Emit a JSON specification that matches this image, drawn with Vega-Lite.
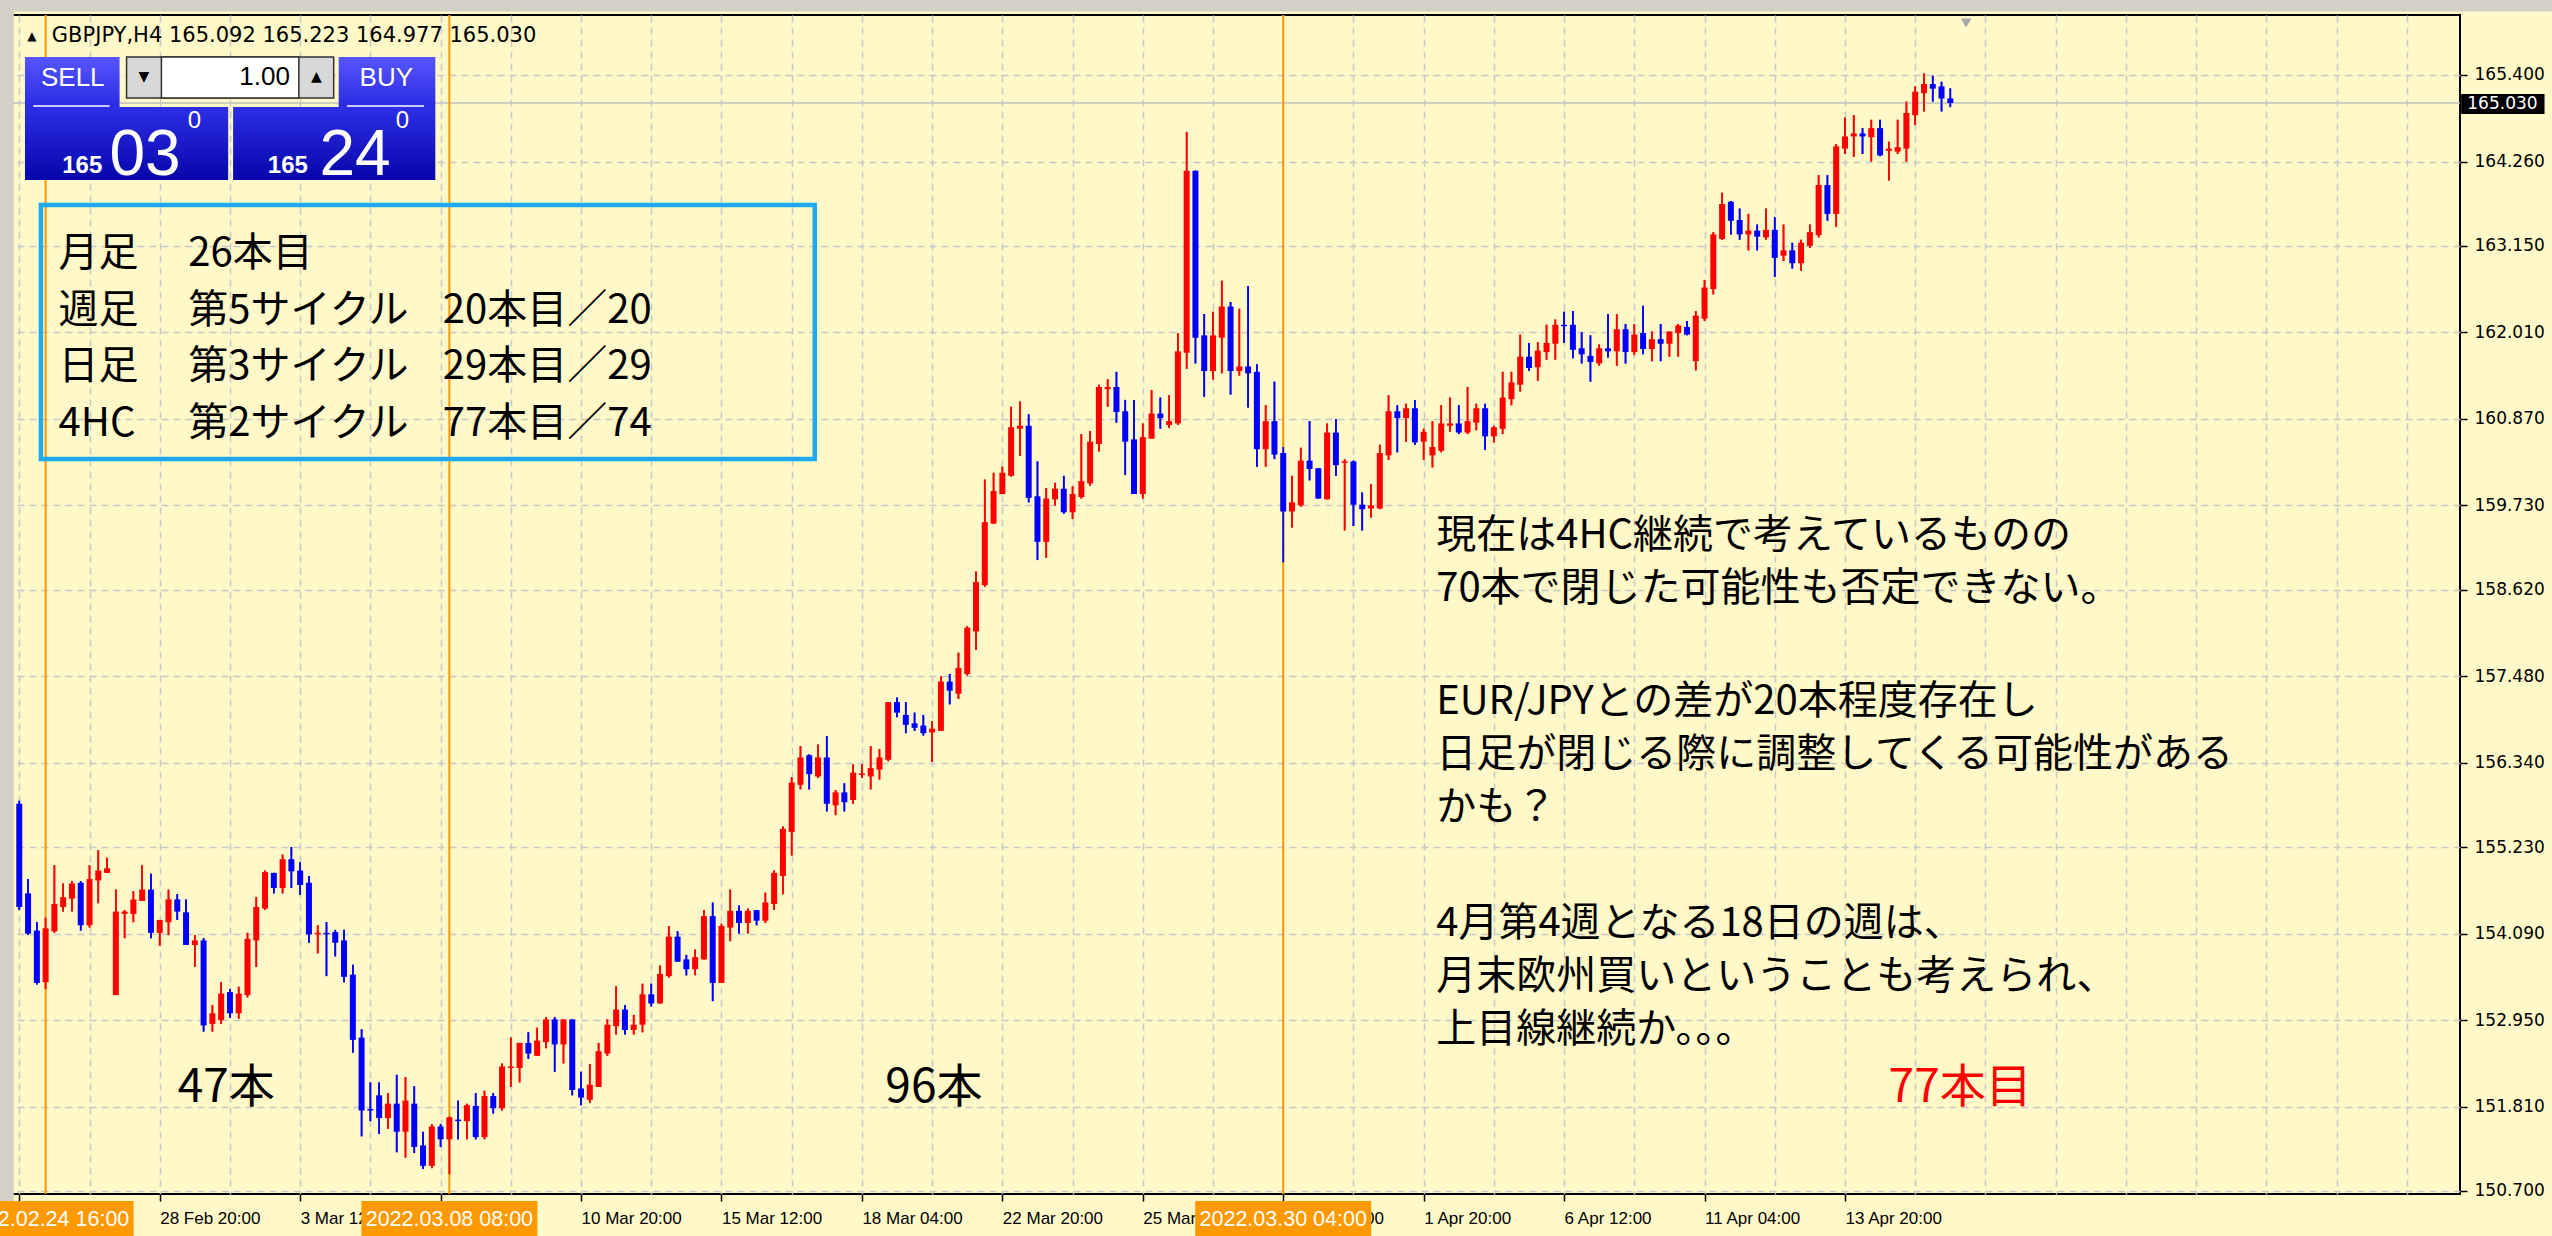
{
"$schema":"https://vega.github.io/schema/vega-lite/v6.json",
"width":2448,"height":1179,
"autosize":{"type":"none"},
"padding":{"left":12,"top":15,"right":92,"bottom":42},
"background":"#fff8c8",
"config":{"view":{"stroke":"#000000","strokeWidth":2}},
"datasets":{
"one":[{}],
"cycles":[{"i":0,"label":"2022.02.24 16:00"},{"i":46,"label":"2022.03.08 08:00"},{"i":141,"label":"2022.03.30 04:00"}],
"candles":[
{"i":-3,"o":155.80,"h":155.84,"l":154.40,"c":154.44},
{"i":-2,"o":154.62,"h":154.81,"l":154.07,"c":154.09},
{"i":-1,"o":154.13,"h":154.24,"l":153.42,"c":153.44},
{"i":0,"o":153.45,"h":154.30,"l":153.36,"c":154.16},
{"i":1,"o":154.12,"h":154.99,"l":154.10,"c":154.48},
{"i":2,"o":154.44,"h":154.75,"l":154.38,"c":154.57},
{"i":3,"o":154.55,"h":154.78,"l":154.38,"c":154.75},
{"i":4,"o":154.76,"h":154.78,"l":154.13,"c":154.20},
{"i":5,"o":154.20,"h":154.99,"l":154.17,"c":154.81},
{"i":6,"o":154.79,"h":155.19,"l":154.49,"c":154.92},
{"i":7,"o":154.89,"h":155.09,"l":154.89,"c":154.95},
{"i":8,"o":153.28,"h":154.67,"l":153.28,"c":154.38},
{"i":9,"o":154.35,"h":154.40,"l":154.03,"c":154.38},
{"i":10,"o":154.35,"h":154.65,"l":154.24,"c":154.54},
{"i":11,"o":154.52,"h":154.99,"l":154.52,"c":154.67},
{"i":12,"o":154.67,"h":154.88,"l":154.03,"c":154.10},
{"i":13,"o":154.10,"h":154.27,"l":153.93,"c":154.27},
{"i":14,"o":154.24,"h":154.67,"l":154.07,"c":154.54},
{"i":15,"o":154.54,"h":154.61,"l":154.27,"c":154.38},
{"i":16,"o":154.37,"h":154.54,"l":153.94,"c":153.94},
{"i":17,"o":153.94,"h":154.07,"l":153.65,"c":154.00},
{"i":18,"o":154.00,"h":154.03,"l":152.80,"c":152.88},
{"i":19,"o":152.90,"h":153.15,"l":152.80,"c":153.04},
{"i":20,"o":152.95,"h":153.45,"l":152.90,"c":153.30},
{"i":21,"o":153.32,"h":153.36,"l":152.98,"c":153.04},
{"i":22,"o":153.04,"h":153.39,"l":152.97,"c":153.30},
{"i":23,"o":153.28,"h":154.10,"l":153.25,"c":154.02},
{"i":24,"o":154.00,"h":154.57,"l":153.65,"c":154.44},
{"i":25,"o":154.42,"h":154.92,"l":154.40,"c":154.90},
{"i":26,"o":154.89,"h":154.89,"l":154.62,"c":154.69},
{"i":27,"o":154.69,"h":155.13,"l":154.62,"c":155.07},
{"i":28,"o":155.07,"h":155.23,"l":154.69,"c":154.91},
{"i":29,"o":154.92,"h":155.03,"l":154.60,"c":154.73},
{"i":30,"o":154.76,"h":154.85,"l":153.97,"c":154.08},
{"i":31,"o":154.08,"h":154.20,"l":153.83,"c":154.10},
{"i":32,"o":154.10,"h":154.24,"l":153.53,"c":154.08},
{"i":33,"o":154.11,"h":154.14,"l":153.79,"c":153.97},
{"i":34,"o":154.00,"h":154.14,"l":153.45,"c":153.52},
{"i":35,"o":153.55,"h":153.68,"l":152.52,"c":152.69},
{"i":36,"o":152.72,"h":152.83,"l":151.42,"c":151.76},
{"i":37,"o":151.78,"h":152.13,"l":151.62,"c":151.76},
{"i":38,"o":151.96,"h":152.13,"l":151.45,"c":151.66},
{"i":39,"o":151.66,"h":151.99,"l":151.52,"c":151.85},
{"i":40,"o":151.85,"h":152.23,"l":151.21,"c":151.48},
{"i":41,"o":151.48,"h":152.20,"l":151.14,"c":151.89},
{"i":42,"o":151.85,"h":152.08,"l":151.20,"c":151.28},
{"i":43,"o":151.30,"h":151.48,"l":150.99,"c":151.03},
{"i":44,"o":151.03,"h":151.58,"l":151.00,"c":151.55},
{"i":45,"o":151.55,"h":151.58,"l":151.28,"c":151.38},
{"i":46,"o":151.38,"h":151.68,"l":150.92,"c":151.67},
{"i":47,"o":151.64,"h":151.89,"l":151.38,"c":151.62},
{"i":48,"o":151.62,"h":151.85,"l":151.38,"c":151.83},
{"i":49,"o":151.82,"h":151.99,"l":151.38,"c":151.41},
{"i":50,"o":151.41,"h":152.02,"l":151.38,"c":151.95},
{"i":51,"o":151.95,"h":151.99,"l":151.72,"c":151.79},
{"i":52,"o":151.79,"h":152.38,"l":151.76,"c":152.34},
{"i":53,"o":152.32,"h":152.72,"l":152.07,"c":152.34},
{"i":54,"o":152.32,"h":152.65,"l":152.13,"c":152.65},
{"i":55,"o":152.65,"h":152.79,"l":152.44,"c":152.51},
{"i":56,"o":152.48,"h":152.85,"l":152.48,"c":152.68},
{"i":57,"o":152.66,"h":152.99,"l":152.58,"c":152.96},
{"i":58,"o":152.96,"h":152.99,"l":152.27,"c":152.63},
{"i":59,"o":152.63,"h":152.96,"l":152.38,"c":152.96},
{"i":60,"o":152.96,"h":152.96,"l":151.96,"c":152.03},
{"i":61,"o":152.05,"h":152.27,"l":151.83,"c":151.93},
{"i":62,"o":151.90,"h":152.37,"l":151.86,"c":152.10},
{"i":63,"o":152.07,"h":152.65,"l":152.07,"c":152.54},
{"i":64,"o":152.51,"h":152.96,"l":152.48,"c":152.89},
{"i":65,"o":152.87,"h":153.40,"l":152.76,"c":153.09},
{"i":66,"o":153.09,"h":153.15,"l":152.76,"c":152.82},
{"i":67,"o":152.82,"h":153.02,"l":152.76,"c":152.89},
{"i":68,"o":152.89,"h":153.43,"l":152.79,"c":153.29},
{"i":69,"o":153.29,"h":153.43,"l":153.13,"c":153.17},
{"i":70,"o":153.17,"h":153.67,"l":153.17,"c":153.56},
{"i":71,"o":153.53,"h":154.19,"l":153.51,"c":154.05},
{"i":72,"o":154.05,"h":154.12,"l":153.72,"c":153.72},
{"i":73,"o":153.75,"h":153.81,"l":153.54,"c":153.62},
{"i":74,"o":153.62,"h":153.88,"l":153.54,"c":153.78},
{"i":75,"o":153.75,"h":154.40,"l":153.75,"c":154.32},
{"i":76,"o":154.32,"h":154.50,"l":153.20,"c":153.44},
{"i":77,"o":153.44,"h":154.22,"l":153.44,"c":154.19},
{"i":78,"o":154.17,"h":154.67,"l":153.99,"c":154.39},
{"i":79,"o":154.39,"h":154.46,"l":154.09,"c":154.23},
{"i":80,"o":154.23,"h":154.42,"l":154.09,"c":154.39},
{"i":81,"o":154.40,"h":154.40,"l":154.20,"c":154.26},
{"i":82,"o":154.26,"h":154.63,"l":154.23,"c":154.50},
{"i":83,"o":154.48,"h":154.92,"l":154.40,"c":154.89},
{"i":84,"o":154.85,"h":155.50,"l":154.61,"c":155.47},
{"i":85,"o":155.43,"h":156.15,"l":155.12,"c":156.08},
{"i":86,"o":156.05,"h":156.56,"l":155.99,"c":156.41},
{"i":87,"o":156.44,"h":156.45,"l":155.99,"c":156.19},
{"i":88,"o":156.16,"h":156.58,"l":156.14,"c":156.41},
{"i":89,"o":156.41,"h":156.69,"l":155.70,"c":155.80},
{"i":90,"o":155.78,"h":155.98,"l":155.65,"c":155.95},
{"i":91,"o":155.95,"h":156.07,"l":155.70,"c":155.82},
{"i":92,"o":155.85,"h":156.32,"l":155.80,"c":156.21},
{"i":93,"o":156.18,"h":156.32,"l":156.14,"c":156.20},
{"i":94,"o":156.16,"h":156.56,"l":155.99,"c":156.27},
{"i":95,"o":156.25,"h":156.52,"l":156.12,"c":156.41},
{"i":96,"o":156.38,"h":157.14,"l":156.36,"c":157.14},
{"i":97,"o":157.14,"h":157.20,"l":156.94,"c":157.00},
{"i":98,"o":156.97,"h":157.14,"l":156.73,"c":156.84},
{"i":99,"o":156.86,"h":157.00,"l":156.76,"c":156.80},
{"i":100,"o":156.83,"h":156.97,"l":156.70,"c":156.73},
{"i":101,"o":156.74,"h":156.89,"l":156.35,"c":156.79},
{"i":102,"o":156.76,"h":157.48,"l":156.76,"c":157.41},
{"i":103,"o":157.41,"h":157.51,"l":157.11,"c":157.29},
{"i":104,"o":157.25,"h":157.79,"l":157.18,"c":157.59},
{"i":105,"o":157.51,"h":158.14,"l":157.49,"c":158.12},
{"i":106,"o":158.07,"h":158.86,"l":157.83,"c":158.72},
{"i":107,"o":158.68,"h":160.07,"l":158.66,"c":159.51},
{"i":108,"o":159.49,"h":160.16,"l":159.49,"c":159.92},
{"i":109,"o":159.88,"h":160.24,"l":159.88,"c":160.16},
{"i":110,"o":160.12,"h":161.03,"l":160.11,"c":160.76},
{"i":111,"o":160.74,"h":161.10,"l":160.38,"c":160.78},
{"i":112,"o":160.78,"h":160.93,"l":159.77,"c":159.83},
{"i":113,"o":159.85,"h":160.31,"l":159.01,"c":159.25},
{"i":114,"o":159.25,"h":159.96,"l":159.04,"c":159.82},
{"i":115,"o":159.81,"h":160.03,"l":159.73,"c":159.95},
{"i":116,"o":159.95,"h":160.12,"l":159.62,"c":159.64},
{"i":117,"o":159.64,"h":159.98,"l":159.55,"c":159.88},
{"i":118,"o":159.84,"h":160.67,"l":159.82,"c":160.05},
{"i":119,"o":160.02,"h":160.71,"l":159.99,"c":160.57},
{"i":120,"o":160.54,"h":161.32,"l":160.44,"c":161.29},
{"i":121,"o":161.26,"h":161.39,"l":161.03,"c":161.29},
{"i":122,"o":161.29,"h":161.49,"l":160.82,"c":160.96},
{"i":123,"o":160.97,"h":161.12,"l":160.13,"c":160.57},
{"i":124,"o":160.60,"h":161.12,"l":159.88,"c":159.88},
{"i":125,"o":159.88,"h":160.81,"l":159.82,"c":160.63},
{"i":126,"o":160.61,"h":161.25,"l":160.61,"c":160.94},
{"i":127,"o":160.94,"h":161.15,"l":160.74,"c":160.88},
{"i":128,"o":160.79,"h":161.18,"l":160.75,"c":160.84},
{"i":129,"o":160.81,"h":162.00,"l":160.79,"c":161.76},
{"i":130,"o":161.74,"h":164.65,"l":161.53,"c":164.14},
{"i":131,"o":164.14,"h":164.14,"l":161.60,"c":161.94},
{"i":132,"o":161.97,"h":162.25,"l":161.16,"c":161.50},
{"i":133,"o":161.50,"h":162.28,"l":161.39,"c":161.97},
{"i":134,"o":161.94,"h":162.69,"l":161.47,"c":162.35},
{"i":135,"o":162.35,"h":162.41,"l":161.19,"c":161.50},
{"i":136,"o":161.50,"h":162.32,"l":161.44,"c":161.56},
{"i":137,"o":161.56,"h":162.62,"l":161.02,"c":161.47},
{"i":138,"o":161.49,"h":161.59,"l":160.24,"c":160.47},
{"i":139,"o":160.47,"h":161.05,"l":160.24,"c":160.84},
{"i":140,"o":160.84,"h":161.36,"l":160.34,"c":160.40},
{"i":141,"o":160.42,"h":160.50,"l":158.98,"c":159.65},
{"i":142,"o":159.65,"h":160.12,"l":159.44,"c":159.77},
{"i":143,"o":159.73,"h":160.49,"l":159.71,"c":160.32},
{"i":144,"o":160.32,"h":160.84,"l":160.06,"c":160.21},
{"i":145,"o":160.22,"h":160.22,"l":159.82,"c":159.82},
{"i":146,"o":159.81,"h":160.81,"l":159.81,"c":160.69},
{"i":147,"o":160.69,"h":160.87,"l":160.12,"c":160.26},
{"i":148,"o":160.29,"h":160.34,"l":159.40,"c":160.31},
{"i":149,"o":160.31,"h":160.32,"l":159.46,"c":159.74},
{"i":150,"o":159.74,"h":159.90,"l":159.40,"c":159.68},
{"i":151,"o":159.69,"h":160.01,"l":159.57,"c":159.73},
{"i":152,"o":159.69,"h":160.53,"l":159.68,"c":160.42},
{"i":153,"o":160.39,"h":161.18,"l":160.33,"c":160.97},
{"i":154,"o":160.97,"h":161.05,"l":160.43,"c":160.88},
{"i":155,"o":160.88,"h":161.07,"l":160.57,"c":161.01},
{"i":156,"o":161.01,"h":161.12,"l":160.53,"c":160.56},
{"i":157,"o":160.57,"h":160.74,"l":160.33,"c":160.70},
{"i":158,"o":160.39,"h":160.84,"l":160.23,"c":160.50},
{"i":159,"o":160.45,"h":161.05,"l":160.43,"c":160.81},
{"i":160,"o":160.78,"h":161.15,"l":160.70,"c":160.81},
{"i":161,"o":160.81,"h":161.05,"l":160.67,"c":160.69},
{"i":162,"o":160.69,"h":161.29,"l":160.67,"c":160.84},
{"i":163,"o":160.82,"h":161.07,"l":160.72,"c":161.01},
{"i":164,"o":161.01,"h":161.07,"l":160.46,"c":160.64},
{"i":165,"o":160.64,"h":160.78,"l":160.56,"c":160.76},
{"i":166,"o":160.74,"h":161.49,"l":160.67,"c":161.15},
{"i":167,"o":161.13,"h":161.49,"l":161.05,"c":161.35},
{"i":168,"o":161.32,"h":161.98,"l":161.23,"c":161.69},
{"i":169,"o":161.69,"h":161.87,"l":161.50,"c":161.54},
{"i":170,"o":161.55,"h":161.88,"l":161.37,"c":161.77},
{"i":171,"o":161.75,"h":162.11,"l":161.65,"c":161.87},
{"i":172,"o":161.86,"h":162.18,"l":161.65,"c":162.11},
{"i":173,"o":162.11,"h":162.28,"l":161.87,"c":162.09},
{"i":174,"o":162.11,"h":162.29,"l":161.67,"c":161.78},
{"i":175,"o":161.80,"h":162.01,"l":161.60,"c":161.72},
{"i":176,"o":161.70,"h":161.97,"l":161.36,"c":161.62},
{"i":177,"o":161.60,"h":161.85,"l":161.57,"c":161.80},
{"i":178,"o":161.80,"h":162.25,"l":161.68,"c":161.76},
{"i":179,"o":161.76,"h":162.25,"l":161.57,"c":162.05},
{"i":180,"o":162.05,"h":162.12,"l":161.60,"c":161.75},
{"i":181,"o":161.75,"h":162.12,"l":161.71,"c":161.98},
{"i":182,"o":162.00,"h":162.36,"l":161.72,"c":161.79},
{"i":183,"o":161.79,"h":162.02,"l":161.63,"c":161.92},
{"i":184,"o":161.92,"h":162.12,"l":161.63,"c":161.86},
{"i":185,"o":161.86,"h":162.02,"l":161.69,"c":162.02},
{"i":186,"o":162.00,"h":162.12,"l":161.69,"c":162.10},
{"i":187,"o":162.08,"h":162.16,"l":161.97,"c":161.98},
{"i":188,"o":161.63,"h":162.29,"l":161.51,"c":162.23},
{"i":189,"o":162.19,"h":162.70,"l":162.16,"c":162.60},
{"i":190,"o":162.58,"h":163.33,"l":162.51,"c":163.30},
{"i":191,"o":163.24,"h":163.85,"l":163.23,"c":163.70},
{"i":192,"o":163.73,"h":163.74,"l":163.30,"c":163.48},
{"i":193,"o":163.49,"h":163.64,"l":163.23,"c":163.30},
{"i":194,"o":163.30,"h":163.57,"l":163.09,"c":163.35},
{"i":195,"o":163.35,"h":163.43,"l":163.09,"c":163.27},
{"i":196,"o":163.26,"h":163.64,"l":163.23,"c":163.36},
{"i":197,"o":163.36,"h":163.53,"l":162.74,"c":162.99},
{"i":198,"o":163.02,"h":163.43,"l":162.95,"c":163.09},
{"i":199,"o":163.09,"h":163.19,"l":162.85,"c":162.92},
{"i":200,"o":162.92,"h":163.23,"l":162.82,"c":163.19},
{"i":201,"o":163.15,"h":163.43,"l":163.12,"c":163.33},
{"i":202,"o":163.29,"h":164.08,"l":163.26,"c":163.95},
{"i":203,"o":163.95,"h":164.08,"l":163.48,"c":163.57},
{"i":204,"o":163.57,"h":164.49,"l":163.40,"c":164.46},
{"i":205,"o":164.43,"h":164.84,"l":164.36,"c":164.59},
{"i":206,"o":164.59,"h":164.87,"l":164.32,"c":164.63},
{"i":207,"o":164.63,"h":164.70,"l":164.36,"c":164.59},
{"i":208,"o":164.58,"h":164.81,"l":164.26,"c":164.70},
{"i":209,"o":164.70,"h":164.81,"l":164.33,"c":164.34},
{"i":210,"o":164.40,"h":164.52,"l":164.01,"c":164.43},
{"i":211,"o":164.39,"h":164.81,"l":164.36,"c":164.45},
{"i":212,"o":164.43,"h":165.05,"l":164.26,"c":164.90},
{"i":213,"o":164.87,"h":165.25,"l":164.74,"c":165.18},
{"i":214,"o":165.16,"h":165.42,"l":164.92,"c":165.28},
{"i":215,"o":165.28,"h":165.39,"l":165.05,"c":165.22},
{"i":216,"o":165.25,"h":165.31,"l":164.92,"c":165.09},
{"i":217,"o":165.092,"h":165.223,"l":164.977,"c":165.03}
]},
"layer":[
{"data":{"name":"one"},"mark":{"type":"rect","color":"#d4d0c8"},
 "encoding":{"x":{"datum":-10,"type":"quantitative","scale":{"domain":[-3.26,274.5],"nice":false,"zero":false}},"x2":{"datum":300},
 "y":{"datum":166.235,"type":"quantitative","scale":{"domain":[150.66,166.19],"nice":false,"zero":false}},"y2":{"datum":166.6}}},
{"data":{"name":"one"},"mark":{"type":"rect","color":"#d4d0c8"},
 "encoding":{"x":{"datum":-10,"type":"quantitative","scale":{"domain":[-3.26,274.5],"nice":false,"zero":false}},"x2":{"datum":-3.62},
 "y":{"datum":140,"type":"quantitative","scale":{"domain":[150.66,166.19],"nice":false,"zero":false}},"y2":{"datum":167}}},
{"data":{"name":"candles"},"mark":{"type":"rule","strokeWidth":1.7},
 "encoding":{
  "x":{"field":"i","type":"quantitative","scale":{"domain":[-3.26,274.5],"nice":false,"zero":false},
   "axis":{"orient":"bottom","title":null,"values":[-3,5,13,21,29,37,45,53,61,69,77,85,93,101,109,117,125,133,141,149,157,165,173,181,189,197,205,213,221,229,237,245,253,261,269],
    "grid":true,"gridDash":[7,5],"gridColor":"#c8c8c8","gridWidth":1.5,"domain":false,
    "tickColor":"#000000","tickSize":7,"tickWidth":1.5,
    "tickOpacity":{"condition":{"test":"(datum.value+3)%16==0 && datum.value<=205","value":1},"value":0},
    "labelExpr":"((datum.value+3)%16==0 && datum.value<=205) ? ['24 Feb 04:00','28 Feb 20:00','3 Mar 12:00','8 Mar 04:00','10 Mar 20:00','15 Mar 12:00','18 Mar 04:00','22 Mar 20:00','25 Mar 12:00','30 Mar 04:00','1 Apr 20:00','6 Apr 12:00','11 Apr 04:00','13 Apr 20:00'][(datum.value+3)/16] : ''",
    "labelAlign":"left","labelBaseline":"top","labelFont":"Liberation Sans","labelFontSize":17,"labelColor":"#000000","labelPadding":9,"labelOverlap":false,"labelFlush":false,"labelBound":false}},
  "y":{"field":"l","type":"quantitative","scale":{"domain":[150.66,166.19],"nice":false,"zero":false},
   "axis":{"orient":"right","title":null,"values":[165.4,164.26,163.15,162.01,160.87,159.73,158.62,157.48,156.34,155.23,154.09,152.95,151.81,150.7],"format":".3f",
    "grid":true,"gridDash":[7,5],"gridColor":"#c8c8c8","gridWidth":1.5,"domain":false,
    "tickColor":"#000000","tickSize":7,"tickWidth":1.5,"labelFont":"DejaVu Sans","labelFontSize":17,"labelColor":"#000000","labelPadding":7,"labelOverlap":false,"labelFlush":false,"labelBound":false}},
  "y2":{"field":"h"},
  "color":{"condition":{"test":"datum.c > datum.o","value":"#ff0000"},"value":"#0000ff"}}},
{"data":{"name":"one"},"mark":{"type":"rule","color":"#c0c0c0","strokeWidth":1.5},
 "encoding":{"y":{"datum":165.03,"type":"quantitative","scale":{"domain":[150.66,166.19],"nice":false,"zero":false}}}},
{"data":{"name":"cycles"},"mark":{"type":"rule","color":"#ff9900","strokeWidth":2},
 "encoding":{"x":{"field":"i","type":"quantitative","scale":{"domain":[-3.26,274.5],"nice":false,"zero":false}}}},
{"data":{"name":"candles"},"mark":{"type":"rule","strokeWidth":1.7},
 "encoding":{
  "x":{"field":"i","type":"quantitative","scale":{"domain":[-3.26,274.5],"nice":false,"zero":false}},
  "y":{"field":"l","type":"quantitative","scale":{"domain":[150.66,166.19],"nice":false,"zero":false}},
  "y2":{"field":"h"},
  "color":{"condition":{"test":"datum.c > datum.o","value":"#ff0000"},"value":"#0000ff"}}},
{"data":{"name":"candles"},"mark":{"type":"bar","size":6},
 "encoding":{
  "x":{"field":"i","type":"quantitative","scale":{"domain":[-3.26,274.5],"nice":false,"zero":false}},
  "y":{"field":"o","type":"quantitative","scale":{"domain":[150.66,166.19],"nice":false,"zero":false}},
  "y2":{"field":"c"},
  "color":{"condition":{"test":"datum.c > datum.o","value":"#ff0000"},"value":"#0000ff"}}},
{"data":{"name":"cycles"},"mark":{"type":"bar","size":176,"color":"#ff9900"},
 "encoding":{"x":{"field":"i","type":"quantitative","scale":{"domain":[-3.26,274.5],"nice":false,"zero":false}},
 "y":{"datum":150.568,"type":"quantitative","scale":{"domain":[150.66,166.19],"nice":false,"zero":false}},"y2":{"datum":150.08}}},
{"data":{"name":"cycles"},"mark":{"type":"text","color":"#ffffff","font":"Liberation Sans","fontSize":21.5,"align":"center","baseline":"middle"},
 "encoding":{"x":{"field":"i","type":"quantitative","scale":{"domain":[-3.26,274.5],"nice":false,"zero":false}},
 "y":{"datum":150.318,"type":"quantitative","scale":{"domain":[150.66,166.19],"nice":false,"zero":false}},"text":{"field":"label"}}},
{"data":{"name":"one"},"mark":{"type":"rect","color":{"gradient":"linear","x1":0,"y1":0,"x2":0,"y2":1,"stops":[{"offset":0,"color":"#5656ff"},{"offset":1,"color":"#2a2ae2"}]}},
 "encoding":{"x":{"datum":-2.352,"type":"quantitative","scale":{"domain":[-3.26,274.5],"nice":false,"zero":false}},"x2":{"datum":8.427},
 "y":{"datum":165.637,"type":"quantitative","scale":{"domain":[150.66,166.19],"nice":false,"zero":false}},"y2":{"datum":164.978}}},
{"data":{"name":"one"},"mark":{"type":"rect","color":{"gradient":"linear","x1":0,"y1":0,"x2":0,"y2":1,"stops":[{"offset":0,"color":"#5656ff"},{"offset":1,"color":"#2a2ae2"}]}},
 "encoding":{"x":{"datum":33.39,"type":"quantitative","scale":{"domain":[-3.26,274.5],"nice":false,"zero":false}},"x2":{"datum":44.4},
 "y":{"datum":165.637,"type":"quantitative","scale":{"domain":[150.66,166.19],"nice":false,"zero":false}},"y2":{"datum":164.978}}},
{"data":{"name":"one"},"mark":{"type":"rect","color":{"gradient":"linear","x1":0,"y1":0,"x2":0,"y2":1,"stops":[{"offset":0,"color":"#2e2ee8"},{"offset":1,"color":"#0606aa"}]}},
 "encoding":{"x":{"datum":-2.352,"type":"quantitative","scale":{"domain":[-3.26,274.5],"nice":false,"zero":false}},"x2":{"datum":20.8},
 "y":{"datum":164.978,"type":"quantitative","scale":{"domain":[150.66,166.19],"nice":false,"zero":false}},"y2":{"datum":164.017}}},
{"data":{"name":"one"},"mark":{"type":"rect","color":{"gradient":"linear","x1":0,"y1":0,"x2":0,"y2":1,"stops":[{"offset":0,"color":"#2e2ee8"},{"offset":1,"color":"#0606aa"}]}},
 "encoding":{"x":{"datum":21.36,"type":"quantitative","scale":{"domain":[-3.26,274.5],"nice":false,"zero":false}},"x2":{"datum":44.4},
 "y":{"datum":164.978,"type":"quantitative","scale":{"domain":[150.66,166.19],"nice":false,"zero":false}},"y2":{"datum":164.017}}},
{"data":{"name":"one"},"mark":{"type":"rect","color":"#d8d8d8","stroke":"#303030","strokeWidth":1.5},
 "encoding":{"x":{"datum":9.222,"type":"quantitative","scale":{"domain":[-3.26,274.5],"nice":false,"zero":false}},"x2":{"datum":32.82},
 "y":{"datum":165.637,"type":"quantitative","scale":{"domain":[150.66,166.19],"nice":false,"zero":false}},"y2":{"datum":165.097}}},
{"data":{"name":"one"},"mark":{"type":"rect","color":"#ffffff","stroke":"#303030","strokeWidth":1.5},
 "encoding":{"x":{"datum":13.19,"type":"quantitative","scale":{"domain":[-3.26,274.5],"nice":false,"zero":false}},"x2":{"datum":28.85},
 "y":{"datum":165.637,"type":"quantitative","scale":{"domain":[150.66,166.19],"nice":false,"zero":false}},"y2":{"datum":165.097}}},
{"data":{"name":"one"},"mark":{"type":"text","text":"▼","color":"#000000","font":"DejaVu Sans","fontSize":14,"align":"center","baseline":"middle"},
 "encoding":{"x":{"datum":11.21,"type":"quantitative","scale":{"domain":[-3.26,274.5],"nice":false,"zero":false}},
 "y":{"datum":165.367,"type":"quantitative","scale":{"domain":[150.66,166.19],"nice":false,"zero":false}}}},
{"data":{"name":"one"},"mark":{"type":"text","text":"▲","color":"#000000","font":"DejaVu Sans","fontSize":14,"align":"center","baseline":"middle"},
 "encoding":{"x":{"datum":30.84,"type":"quantitative","scale":{"domain":[-3.26,274.5],"nice":false,"zero":false}},
 "y":{"datum":165.367,"type":"quantitative","scale":{"domain":[150.66,166.19],"nice":false,"zero":false}}}},
{"data":{"name":"one"},"mark":{"type":"text","text":"1.00","color":"#000000","font":"Liberation Sans","fontSize":26,"align":"right","baseline":"middle"},
 "encoding":{"x":{"datum":27.83,"type":"quantitative","scale":{"domain":[-3.26,274.5],"nice":false,"zero":false}},
 "y":{"datum":165.367,"type":"quantitative","scale":{"domain":[150.66,166.19],"nice":false,"zero":false}}}},
{"data":{"name":"one"},"mark":{"type":"rule","color":"#c8c8ff","strokeWidth":2},
 "encoding":{"x":{"datum":-1.41,"type":"quantitative","scale":{"domain":[-3.26,274.5],"nice":false,"zero":false}},"x2":{"datum":7.29},
 "y":{"datum":164.991,"type":"quantitative","scale":{"domain":[150.66,166.19],"nice":false,"zero":false}}}},
{"data":{"name":"one"},"mark":{"type":"rule","color":"#c8c8ff","strokeWidth":2},
 "encoding":{"x":{"datum":34.33,"type":"quantitative","scale":{"domain":[-3.26,274.5],"nice":false,"zero":false}},"x2":{"datum":43.11},
 "y":{"datum":164.991,"type":"quantitative","scale":{"domain":[150.66,166.19],"nice":false,"zero":false}}}},
{"data":{"name":"one"},"mark":{"type":"text","text":"SELL","color":"#ffffff","font":"Liberation Sans","fontSize":26,"align":"center","baseline":"middle"},
 "encoding":{"x":{"datum":3.094,"type":"quantitative","scale":{"domain":[-3.26,274.5],"nice":false,"zero":false}},
 "y":{"datum":165.36,"type":"quantitative","scale":{"domain":[150.66,166.19],"nice":false,"zero":false}}}},
{"data":{"name":"one"},"mark":{"type":"text","text":"BUY","color":"#ffffff","font":"Liberation Sans","fontSize":26,"align":"center","baseline":"middle"},
 "encoding":{"x":{"datum":38.82,"type":"quantitative","scale":{"domain":[-3.26,274.5],"nice":false,"zero":false}},
 "y":{"datum":165.36,"type":"quantitative","scale":{"domain":[150.66,166.19],"nice":false,"zero":false}}}},
{"data":{"name":"one"},"mark":{"type":"text","text":"165","color":"#ffffff","font":"Liberation Sans","fontSize":24,"fontWeight":"bold","align":"center","baseline":"alphabetic"},
 "encoding":{"x":{"datum":4.17,"type":"quantitative","scale":{"domain":[-3.26,274.5],"nice":false,"zero":false}},
 "y":{"datum":164.109,"type":"quantitative","scale":{"domain":[150.66,166.19],"nice":false,"zero":false}}}},
{"data":{"name":"one"},"mark":{"type":"text","text":"03","color":"#ffffff","font":"Liberation Sans","fontSize":64,"align":"center","baseline":"alphabetic"},
 "encoding":{"x":{"datum":11.32,"type":"quantitative","scale":{"domain":[-3.26,274.5],"nice":false,"zero":false}},
 "y":{"datum":164.082,"type":"quantitative","scale":{"domain":[150.66,166.19],"nice":false,"zero":false}}}},
{"data":{"name":"one"},"mark":{"type":"text","text":"0","color":"#ffffff","font":"Liberation Sans","fontSize":24,"align":"center","baseline":"alphabetic"},
 "encoding":{"x":{"datum":16.94,"type":"quantitative","scale":{"domain":[-3.26,274.5],"nice":false,"zero":false}},
 "y":{"datum":164.702,"type":"quantitative","scale":{"domain":[150.66,166.19],"nice":false,"zero":false}}}},
{"data":{"name":"one"},"mark":{"type":"text","text":"165","color":"#ffffff","font":"Liberation Sans","fontSize":24,"fontWeight":"bold","align":"center","baseline":"alphabetic"},
 "encoding":{"x":{"datum":27.6,"type":"quantitative","scale":{"domain":[-3.26,274.5],"nice":false,"zero":false}},
 "y":{"datum":164.109,"type":"quantitative","scale":{"domain":[150.66,166.19],"nice":false,"zero":false}}}},
{"data":{"name":"one"},"mark":{"type":"text","text":"24","color":"#ffffff","font":"Liberation Sans","fontSize":64,"align":"center","baseline":"alphabetic"},
 "encoding":{"x":{"datum":35.26,"type":"quantitative","scale":{"domain":[-3.26,274.5],"nice":false,"zero":false}},
 "y":{"datum":164.082,"type":"quantitative","scale":{"domain":[150.66,166.19],"nice":false,"zero":false}}}},
{"data":{"name":"one"},"mark":{"type":"text","text":"0","color":"#ffffff","font":"Liberation Sans","fontSize":24,"align":"center","baseline":"alphabetic"},
 "encoding":{"x":{"datum":40.65,"type":"quantitative","scale":{"domain":[-3.26,274.5],"nice":false,"zero":false}},
 "y":{"datum":164.702,"type":"quantitative","scale":{"domain":[150.66,166.19],"nice":false,"zero":false}}}},
{"data":{"name":"one"},"mark":{"type":"text","text":"▲","color":"#000000","font":"DejaVu Sans","fontSize":12,"align":"center","baseline":"middle"},
 "encoding":{"x":{"datum":-1.558,"type":"quantitative","scale":{"domain":[-3.26,274.5],"nice":false,"zero":false}},
 "y":{"datum":165.913,"type":"quantitative","scale":{"domain":[150.66,166.19],"nice":false,"zero":false}}}},
{"data":{"name":"one"},"mark":{"type":"text","text":"GBPJPY,H4  165.092 165.223 164.977 165.030","color":"#000000","font":"DejaVu Sans","fontSize":21,"align":"left","baseline":"middle"},
 "encoding":{"x":{"datum":0.71,"type":"quantitative","scale":{"domain":[-3.26,274.5],"nice":false,"zero":false}},
 "y":{"datum":165.913,"type":"quantitative","scale":{"domain":[150.66,166.19],"nice":false,"zero":false}}}},
{"data":{"name":"one"},"mark":{"type":"rect","filled":false,"stroke":"#1eaaf0","strokeWidth":4.5},
 "encoding":{"x":{"datum":-0.537,"type":"quantitative","scale":{"domain":[-3.26,274.5],"nice":false,"zero":false}},"x2":{"datum":87.63},
 "y":{"datum":163.687,"type":"quantitative","scale":{"domain":[150.66,166.19],"nice":false,"zero":false}},"y2":{"datum":160.342}}},
{"data":{"name":"one"},"mark":{"type":"text","text":["月足","週足","日足","4HC"],"color":"#000000","font":"Noto Sans CJK JP","fontSize":40,"lineHeight":56.7,"align":"left","baseline":"top"},
 "encoding":{"x":{"datum":1.48,"type":"quantitative","scale":{"domain":[-3.26,274.5],"nice":false,"zero":false}},
 "y":{"datum":163.305,"type":"quantitative","scale":{"domain":[150.66,166.19],"nice":false,"zero":false}}}},
{"data":{"name":"one"},"mark":{"type":"text","text":["26本目","第5サイクル","第3サイクル","第2サイクル"],"color":"#000000","font":"Noto Sans CJK JP","fontSize":40,"lineHeight":56.7,"align":"left","baseline":"top"},
 "encoding":{"x":{"datum":16.26,"type":"quantitative","scale":{"domain":[-3.26,274.5],"nice":false,"zero":false}},
 "y":{"datum":163.305,"type":"quantitative","scale":{"domain":[150.66,166.19],"nice":false,"zero":false}}}},
{"data":{"name":"one"},"mark":{"type":"text","text":["20本目／20","29本目／29","77本目／74"],"color":"#000000","font":"Noto Sans CJK JP","fontSize":40,"lineHeight":56.7,"align":"left","baseline":"top"},
 "encoding":{"x":{"datum":45.25,"type":"quantitative","scale":{"domain":[-3.26,274.5],"nice":false,"zero":false}},
 "y":{"datum":162.558,"type":"quantitative","scale":{"domain":[150.66,166.19],"nice":false,"zero":false}}}},
{"data":{"name":"one"},"mark":{"type":"text","text":["現在は4HC継続で考えているものの","70本で閉じた可能性も否定できない。"],"color":"#000000","font":"Noto Sans CJK JP","fontSize":40,"lineHeight":53,"align":"left","baseline":"top"},
 "encoding":{"x":{"datum":158.43,"type":"quantitative","scale":{"domain":[-3.26,274.5],"nice":false,"zero":false}},
 "y":{"datum":159.591,"type":"quantitative","scale":{"domain":[150.66,166.19],"nice":false,"zero":false}}}},
{"data":{"name":"one"},"mark":{"type":"text","text":["EUR/JPYとの差が20本程度存在し","日足が閉じる際に調整してくる可能性がある","かも？"],"color":"#000000","font":"Noto Sans CJK JP","fontSize":40,"lineHeight":53,"align":"left","baseline":"top"},
 "encoding":{"x":{"datum":158.43,"type":"quantitative","scale":{"domain":[-3.26,274.5],"nice":false,"zero":false}},
 "y":{"datum":157.41,"type":"quantitative","scale":{"domain":[150.66,166.19],"nice":false,"zero":false}}}},
{"data":{"name":"one"},"mark":{"type":"text","text":["4月第4週となる18日の週は、","月末欧州買いということも考えられ、","上目線継続か。。。"],"color":"#000000","font":"Noto Sans CJK JP","fontSize":40,"lineHeight":53,"align":"left","baseline":"top"},
 "encoding":{"x":{"datum":158.43,"type":"quantitative","scale":{"domain":[-3.26,274.5],"nice":false,"zero":false}},
 "y":{"datum":154.485,"type":"quantitative","scale":{"domain":[150.66,166.19],"nice":false,"zero":false}}}},
{"data":{"name":"one"},"mark":{"type":"text","text":"47本","color":"#000000","font":"Noto Sans CJK JP","fontSize":46,"align":"center","baseline":"middle"},
 "encoding":{"x":{"datum":20.57,"type":"quantitative","scale":{"domain":[-3.26,274.5],"nice":false,"zero":false}},
 "y":{"datum":152.056,"type":"quantitative","scale":{"domain":[150.66,166.19],"nice":false,"zero":false}}}},
{"data":{"name":"one"},"mark":{"type":"text","text":"96本","color":"#000000","font":"Noto Sans CJK JP","fontSize":46,"align":"center","baseline":"middle"},
 "encoding":{"x":{"datum":101.2,"type":"quantitative","scale":{"domain":[-3.26,274.5],"nice":false,"zero":false}},
 "y":{"datum":152.056,"type":"quantitative","scale":{"domain":[150.66,166.19],"nice":false,"zero":false}}}},
{"data":{"name":"one"},"mark":{"type":"text","text":"77本目","color":"#ff0000","font":"Noto Sans CJK JP","fontSize":46,"align":"center","baseline":"middle"},
 "encoding":{"x":{"datum":218.12,"type":"quantitative","scale":{"domain":[-3.26,274.5],"nice":false,"zero":false}},
 "y":{"datum":152.056,"type":"quantitative","scale":{"domain":[150.66,166.19],"nice":false,"zero":false}}}},
{"data":{"name":"one"},"mark":{"type":"rect","color":"#000000"},
 "encoding":{"x":{"datum":275.2,"type":"quantitative","scale":{"domain":[-3.26,274.5],"nice":false,"zero":false}},"x2":{"datum":284.7},
 "y":{"datum":165.149,"type":"quantitative","scale":{"domain":[150.66,166.19],"nice":false,"zero":false}},"y2":{"datum":164.886}}},
{"data":{"name":"one"},"mark":{"type":"text","text":"165.030","color":"#ffffff","font":"DejaVu Sans","fontSize":17,"align":"left","baseline":"middle"},
 "encoding":{"x":{"datum":275.9,"type":"quantitative","scale":{"domain":[-3.26,274.5],"nice":false,"zero":false}},
 "y":{"datum":165.018,"type":"quantitative","scale":{"domain":[150.66,166.19],"nice":false,"zero":false}}}},
{"data":{"name":"one"},"mark":{"type":"point","shape":"triangle-down","filled":true,"size":110,"color":"#a8a8a8","opacity":1},
 "encoding":{"x":{"datum":218.8,"type":"quantitative","scale":{"domain":[-3.26,274.5],"nice":false,"zero":false}},
 "y":{"datum":166.085,"type":"quantitative","scale":{"domain":[150.66,166.19],"nice":false,"zero":false}}}}
]
}
